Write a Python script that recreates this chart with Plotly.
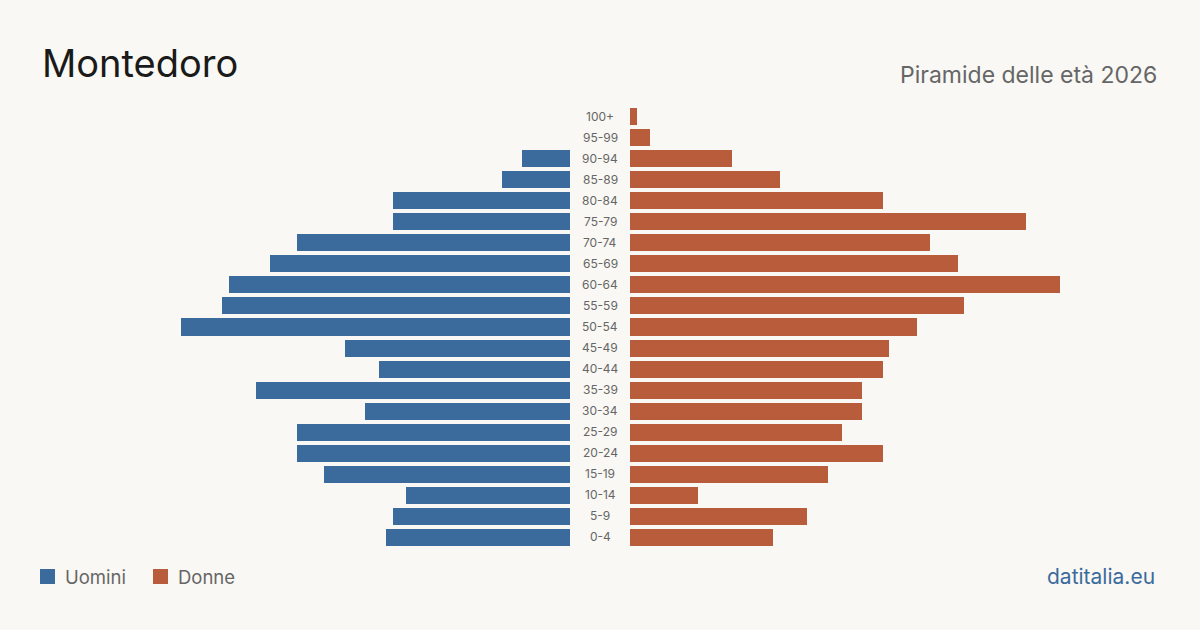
import plotly.graph_objects as go

age_groups = ["0-4", "5-9", "10-14", "15-19", "20-24", "25-29", "30-34", "35-39",
              "40-44", "45-49", "50-54", "55-59", "60-64", "65-69", "70-74",
              "75-79", "80-84", "85-89", "90-94", "95-99", "100+"]
uomini = [27, 26, 24, 36, 40, 40, 30, 46, 28, 33, 57, 51, 50, 44, 40, 26, 26, 10, 7, 0, 0]
donne = [21, 26, 10, 29, 37, 31, 34, 34, 37, 38, 42, 49, 63, 48, 44, 58, 37, 22, 15, 3, 1]

BLUE = "#3b6b9c"
ORANGE = "#b95c3c"
BG = "#f9f8f4"
FONT = "Inter"
xmax = max(max(uomini), max(donne))

W, H = 1200, 630
y_dom = [82.5 / H, 524.5 / H]

fig = go.Figure()
fig.add_trace(go.Bar(y=list(range(len(age_groups))), x=uomini, orientation="h",
                     marker=dict(color=BLUE, line=dict(width=0)), width=0.81,
                     xaxis="x", yaxis="y", name="Uomini", showlegend=False,
                     hoverinfo="x"))
fig.add_trace(go.Bar(y=list(range(len(age_groups))), x=donne, orientation="h",
                     marker=dict(color=ORANGE, line=dict(width=0)), width=0.81,
                     xaxis="x2", yaxis="y2", name="Donne", showlegend=False,
                     hoverinfo="x"))

ax_common = dict(showgrid=False, zeroline=False, showticklabels=False, showline=False, ticks="")
fig.update_layout(
    width=W, height=H,
    paper_bgcolor=BG, plot_bgcolor=BG,
    margin=dict(l=0, r=0, t=0, b=0),
    font=dict(family=FONT),
    bargap=0,
    xaxis=dict(domain=[(570 - 430) / W, 570 / W], range=[xmax, 0], **ax_common),
    xaxis2=dict(domain=[630 / W, (630 + 430) / W], range=[0, xmax], **ax_common),
    yaxis=dict(domain=y_dom, range=[-0.5, len(age_groups) - 0.5], anchor="x", **ax_common),
    yaxis2=dict(domain=y_dom, range=[-0.5, len(age_groups) - 0.5], anchor="x2", **ax_common),
)

# Age labels in the middle
for i, lab in enumerate(age_groups):
    fig.add_annotation(x=600 / W, xref="paper", y=i, yref="y", text=lab, showarrow=False,
                       xanchor="center", yanchor="middle",
                       font=dict(family=FONT, size=12, color="#666666"))

# Title and subtitle
fig.add_annotation(x=40 / W, y=1 - 88 / H, xref="paper", yref="paper", text="Montedoro",
                   showarrow=False, xanchor="left", yanchor="bottom",
                   font=dict(family=FONT, size=38, color="#1a1a1a"))
fig.add_annotation(x=1159 / W, y=1 - 91 / H, xref="paper", yref="paper",
                   text="Piramide delle età 2026", showarrow=False,
                   xanchor="right", yanchor="bottom",
                   font=dict(family=FONT, size=23, color="#666666"))

# Legend
for x0, col, lab in [(40, BLUE, "Uomini"), (153, ORANGE, "Donne")]:
    fig.add_shape(type="rect", xref="paper", yref="paper",
                  x0=x0 / W, x1=(x0 + 15) / W, y0=1 - 584 / H, y1=1 - 569 / H,
                  fillcolor=col, line=dict(width=0))
    fig.add_annotation(x=(x0 + 23) / W, y=1 - 576.5 / H, xref="paper", yref="paper",
                       text=lab, showarrow=False, xanchor="left", yanchor="middle",
                       font=dict(family=FONT, size=18.5, color="#666666"))

fig.add_annotation(x=1157 / W, y=1 - 576 / H, xref="paper", yref="paper",
                   text="datitalia.eu", showarrow=False, xanchor="right", yanchor="middle",
                   font=dict(family=FONT, size=21, color=BLUE))

fig.write_html("out.html")
